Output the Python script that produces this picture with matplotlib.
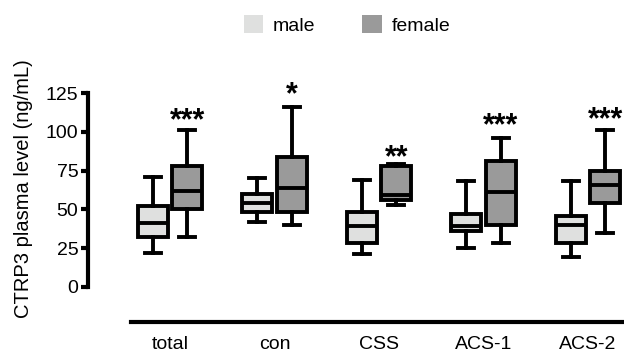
import matplotlib.pyplot as plt
from matplotlib.patches import Patch

plt.rcParams['font.family'] = ['Liberation Sans', 'DejaVu Sans']

groups = ['total', 'con', 'CSS', 'ACS-1', 'ACS-2']

# box statistics: whisker low, q1, median, q3, whisker high
male_lo = [22, 42, 21, 25, 19]
male_q1 = [32, 48, 28, 36, 28]
male_med = [41, 54, 39, 39, 40]
male_q3 = [52, 60, 48, 47, 46]
male_hi = [71, 70, 69, 68, 68]

female_lo = [32, 40, 53, 28, 35]
female_q1 = [50, 48, 56, 40, 54]
female_med = [62, 64, 59, 61, 66]
female_q3 = [78, 84, 78, 81, 75]
female_hi = [101, 116, 79, 96, 101]

stars = ['***', '*', '**', '***', '***']
star_y = [113, 130, 89, 110, 114]

male_color = '#dfe0df'
female_color = '#9a9a9a'


def make_stats(lo, q1, med, q3, hi):
    return [dict(whislo=a, q1=b, med=c, q3=d, whishi=e, fliers=[])
            for a, b, c, d, e in zip(lo, q1, med, q3, hi)]


fig = plt.figure(figsize=(6.24, 3.56), dpi=100)
ax = fig.add_axes([88 / 624, 1 - 322 / 356, 1 - 88 / 624, (322 - 70) / 356])

offset = 0.165
width = 0.287
lw = 2.8

for stats, shift, color in [(make_stats(male_lo, male_q1, male_med, male_q3, male_hi), -offset, male_color),
                            (make_stats(female_lo, female_q1, female_med, female_q3, female_hi), offset, female_color)]:
    pos = [i + shift for i in range(len(groups))]
    ax.bxp(stats, positions=pos, widths=width, patch_artist=True, showfliers=False,
           boxprops=dict(facecolor=color, edgecolor='black', linewidth=lw),
           medianprops=dict(color='black', linewidth=lw),
           whiskerprops=dict(color='black', linewidth=lw),
           capprops=dict(color='black', linewidth=lw),
           capwidths=0.155, manage_ticks=False)

# asterisks: y is the centre of the glyph, the baseline sits lower
star_size = 22
for i, (s, y) in enumerate(zip(stars, star_y)):
    ax.annotate(s, (i + offset, y), xytext=(0, -0.575 * star_size), textcoords='offset points',
                ha='center', va='baseline', fontsize=star_size, fontweight='bold')

ax.set_xlim(-0.785, 4.344)
ax.set_ylim(-22.8, 140)
ax.set_yticks([0, 25, 50, 75, 100, 125])
ax.spines['left'].set_bounds(0, 125)
ax.spines['bottom'].set_bounds(-0.373, 4.344)
for side in ['top', 'right']:
    ax.spines[side].set_visible(False)
for side in ['left', 'bottom']:
    ax.spines[side].set_linewidth(3)
ax.set_xticks(range(len(groups)))
ax.set_xticklabels(groups)
ax.tick_params(axis='x', length=0, labelsize=14, pad=10)
ax.tick_params(axis='y', length=5, width=3, labelsize=14, pad=2)
ax.set_ylabel('CTRP3 plasma level (ng/mL)', fontsize=14.5)
ax.yaxis.set_label_coords(-0.103, 0.53)

handles = [Patch(facecolor=male_color, label='male'), Patch(facecolor=female_color, label='female')]
fig.legend(handles=handles, loc='center', bbox_to_anchor=(347 / 624, 1 - 25 / 356), ncol=2,
           frameon=False, fontsize=14, handlelength=1, handleheight=1, columnspacing=2.4,
           handletextpad=0.5)

fig.savefig('out.png', dpi=100)
